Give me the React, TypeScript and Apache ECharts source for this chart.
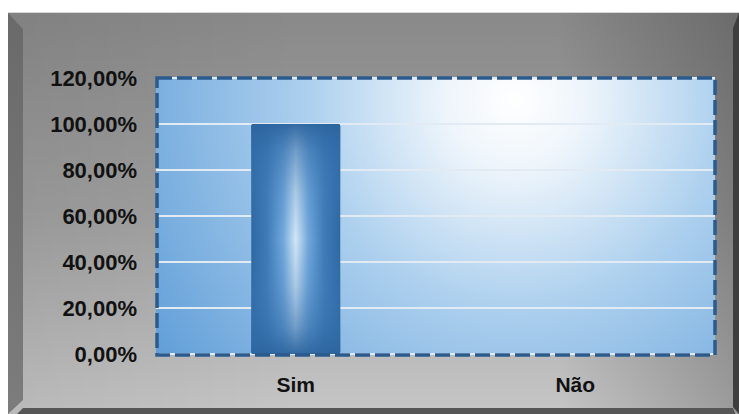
import React, { useEffect, useRef } from "react";
import * as echarts from "echarts";

const categories = ["Sim", "Não"];
const values = [1.0, 0.0];
const yMin = 0;
const yMax = 1.2;
const yStep = 0.2;

const fmtPct = (v: number) => (v * 100).toFixed(2).replace(".", ",") + "%";

export default function App() {
  const ref = useRef<HTMLDivElement>(null);
  useEffect(() => {
    if (!ref.current) return;
    const chart = echarts.init(ref.current, null, { renderer: "svg" });
    const W = 739;
    const H = 414;
    const gL = 156, gT = 78, gR = 715, gB = 354;
    const font = "Liberation Sans, Arial, sans-serif";
    chart.setOption({
      animation: false,
      backgroundColor: "#ffffff",
      grid: {
        left: gL,
        top: gT,
        right: W - gR,
        bottom: H - gB,
        show: false,
      },
      graphic: [
        {
          type: "rect",
          z: -20,
          silent: true,
          shape: { x: 8, y: 13, width: W - 8, height: H - 13 },
          style: {
            fill: new echarts.graphic.LinearGradient(0, 0, 0, 1, [
              { offset: 0, color: "#898989" },
              { offset: 0.5, color: "#a0a0a0" },
              { offset: 1, color: "#c6c6c6" },
            ]),
          },
        },
        {
          type: "rect",
          z: -19,
          silent: true,
          shape: { x: 8, y: 13, width: W - 8, height: H - 13 },
          style: {
            fill: new echarts.graphic.LinearGradient(0, 0, 1, 0, [
              { offset: 0, color: "rgba(0,0,0,0.06)" },
              { offset: 0.4, color: "rgba(0,0,0,0)" },
              { offset: 0.75, color: "rgba(0,0,0,0)" },
              { offset: 1, color: "rgba(0,0,0,0.22)" },
            ]),
          },
        },
        {
          type: "line",
          z: -18,
          silent: true,
          shape: { x1: 8, y1: 12.5, x2: W, y2: 12.5 },
          style: { stroke: "#d8d8d8", lineWidth: 1 },
        },
        {
          type: "polygon",
          z: -18,
          silent: true,
          shape: { points: [[8, 13], [23, 29], [23, 400], [8, 414]] },
          style: {
            fill: new echarts.graphic.LinearGradient(0, 0, 0, 1, [
              { offset: 0, color: "#6a6a6a" },
              { offset: 1, color: "#7c7c7c" },
            ]),
          },
        },
        {
          type: "polygon",
          z: -18,
          silent: true,
          shape: { points: [[W, 13], [733, 28], [733, 407], [W, 414]] },
          style: { fill: "#3e3e3e" },
        },
        {
          type: "polygon",
          z: -17,
          silent: true,
          shape: { points: [[8, 423], [23, 408], [733, 408], [W, 423]] },
          style: { fill: "#565656" },
        },
        {
          type: "rect",
          z: -10,
          silent: true,
          shape: { x: gL, y: gT, width: gR - gL, height: gB - gT },
          style: {
            fill: {
              type: "radial",
              x: 515,
              y: 100,
              r: 460,
              global: true,
              colorStops: [
                { offset: 0, color: "#ffffff" },
                { offset: 0.15, color: "#eef5fb" },
                { offset: 0.45, color: "#add0ee" },
                { offset: 1, color: "#5a9ad6" },
              ],
            },
          },
        },
        {
          type: "rect",
          z: 100,
          silent: true,
          shape: { x: gL + 1, y: gT, width: gR - gL - 1, height: gB - gT + 1 },
          style: {
            fill: "none",
            stroke: "#2b5b8d",
            lineWidth: 3.5,
            lineDash: [15, 5],
          },
        },
      ],
      xAxis: {
        type: "category",
        data: categories,
        axisLine: { show: false },
        axisTick: { show: false },
        axisLabel: {
          margin: 20,
          color: "#111111",
          fontFamily: font,
          fontWeight: "bold",
          fontSize: 21,
        },
      },
      yAxis: {
        type: "value",
        min: yMin,
        max: yMax,
        interval: yStep,
        axisLine: { show: false },
        axisTick: { show: false },
        splitLine: { show: true, lineStyle: { color: "#e2ebf4", width: 2 } },
        axisLabel: {
          margin: 19,
          color: "#111111",
          fontFamily: font,
          fontWeight: "bold",
          fontSize: 22,
          formatter: (v: number) => fmtPct(v),
        },
      },
      series: [
        {
          type: "bar",
          data: values,
          barWidth: 89,
          itemStyle: {
            borderRadius: 2,
            color: new echarts.graphic.LinearGradient(0, 0, 1, 0, [
              { offset: 0, color: "#2e68a2" },
              { offset: 0.18, color: "#3f7bb8" },
              { offset: 0.36, color: "#72a8db" },
              { offset: 0.5, color: "#d2e6f6" },
              { offset: 0.64, color: "#72a8db" },
              { offset: 0.82, color: "#3f7bb8" },
              { offset: 1, color: "#2e68a2" },
            ]),
          },
        },
        {
          type: "bar",
          data: values,
          barWidth: 89,
          barGap: "-100%",
          silent: true,
          itemStyle: {
            borderRadius: 2,
            color: new echarts.graphic.LinearGradient(0, 0, 0, 1, [
              { offset: 0, color: "rgba(44,100,158,0.95)" },
              { offset: 0.12, color: "rgba(52,110,170,0.6)" },
              { offset: 0.3, color: "rgba(60,120,180,0.25)" },
              { offset: 0.5, color: "rgba(60,120,180,0)" },
              { offset: 0.7, color: "rgba(60,120,180,0.25)" },
              { offset: 0.88, color: "rgba(52,110,170,0.6)" },
              { offset: 1, color: "rgba(44,100,158,0.95)" },
            ]),
          },
        },
      ],
    });
    return () => chart.dispose();
  }, []);
  return (
    <div
      ref={ref}
      style={{ position: "fixed", left: 0, top: 0, width: 739, height: 414 }}
    />
  );
}
